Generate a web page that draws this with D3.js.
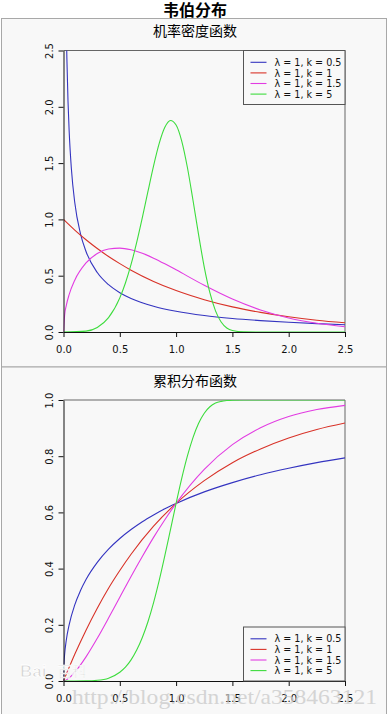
<!DOCTYPE html>
<meta charset="utf-8">
<script src="https://d3js.org/d3.v7.min.js"></script>
<style>
  body { margin: 0; background: #fff; }
</style>
<div id="chart"></div>
<script>

// titles and legend
const mainTitle = "韦伯分布";
const pdfTitle = "机率密度函数";
const cdfTitle = "累积分布函数";
const seriesLabels = ["λ = 1, k = 0.5", "λ = 1, k = 1", "λ = 1, k = 1.5", "λ = 1, k = 5"];
const seriesColors = ["#3434c0", "#d83228", "#e23ce2", "#3ddc3d"];

// tick labels
const xTicks = [0, 0.5, 1.0, 1.5, 2.0, 2.5];
const pdfTicks = [0, 0.5, 1.0, 1.5, 2.0, 2.5];
const cdfTicks = [0, 0.2, 0.4, 0.6, 0.8, 1.0];

// k = 0.5 (blue)
const blueX_pdf = [0.025, 0.03, 0.04, 0.05, 0.07, 0.1, 0.15, 0.2, 0.3, 0.4, 0.5, 0.6, 0.8, 1.0, 1.25, 1.5, 1.75, 2.0, 2.25, 2.5];
const blueY_pdf = [2.70, 2.43, 2.05, 1.79, 1.45, 1.15, 0.876, 0.715, 0.528, 0.420, 0.349, 0.298, 0.229, 0.184, 0.146, 0.120, 0.101, 0.086, 0.074, 0.065];
const blueX_cdf = [0, 0.002, 0.005, 0.01, 0.025, 0.05, 0.1, 0.15, 0.2, 0.3, 0.4, 0.5, 0.6, 0.7, 0.8, 0.9, 1.0, 1.25, 1.5, 1.75, 2.0, 2.25, 2.5];
const blueY_cdf = [0, 0.044, 0.068, 0.095, 0.146, 0.200, 0.271, 0.321, 0.361, 0.422, 0.469, 0.507, 0.539, 0.567, 0.591, 0.613, 0.632, 0.673, 0.706, 0.734, 0.757, 0.777, 0.794];

// k = 1 (red)
const redX = [0, 0.1, 0.2, 0.3, 0.4, 0.5, 0.6, 0.8, 1.0, 1.25, 1.5, 1.75, 2.0, 2.25, 2.5];
const redY_pdf = [1, 0.905, 0.819, 0.741, 0.670, 0.607, 0.549, 0.449, 0.368, 0.287, 0.223, 0.174, 0.135, 0.105, 0.082];
const redY_cdf = [0, 0.095, 0.181, 0.259, 0.330, 0.393, 0.451, 0.551, 0.632, 0.713, 0.777, 0.826, 0.865, 0.895, 0.918];

// k = 1.5 (magenta)
const magX = [0, 0.01, 0.025, 0.05, 0.1, 0.2, 0.3, 0.4, 0.5, 0.6, 0.7, 0.8, 0.9, 1.0, 1.25, 1.5, 1.75, 2.0, 2.25, 2.5];
const magY_pdf = [0, 0.150, 0.236, 0.332, 0.460, 0.613, 0.697, 0.737, 0.745, 0.730, 0.699, 0.656, 0.606, 0.552, 0.415, 0.293, 0.196, 0.125, 0.077, 0.046];
const magY_cdf = [0, 0.001, 0.004, 0.011, 0.031, 0.086, 0.152, 0.224, 0.298, 0.372, 0.443, 0.511, 0.574, 0.632, 0.753, 0.841, 0.901, 0.941, 0.966, 0.981];

// k = 5 (green)
const greenX = [0, 0.2, 0.3, 0.4, 0.5, 0.55, 0.6, 0.65, 0.7, 0.75, 0.8, 0.85, 0.9, 0.95, 1.0, 1.05, 1.1, 1.15, 1.2, 1.25, 1.3, 1.35, 1.4, 1.45, 1.5, 1.6, 2.0, 2.5];
const greenY_pdf = [0, 0.008, 0.040, 0.127, 0.303, 0.435, 0.600, 0.795, 1.015, 1.248, 1.476, 1.675, 1.818, 1.879, 1.839, 1.696, 1.463, 1.170, 0.862, 0.577, 0.349, 0.188, 0.089, 0.036, 0.013, 0.001, 0, 0];
const greenY_cdf = [0, 0.0003, 0.0024, 0.010, 0.031, 0.049, 0.075, 0.110, 0.155, 0.211, 0.279, 0.358, 0.446, 0.539, 0.632, 0.721, 0.800, 0.866, 0.917, 0.953, 0.976, 0.989, 0.995, 0.998, 0.9995, 1, 1, 1];

const zip = (xs, ys) => xs.map((x, i) => [x, ys[i]]);

const pdfSeries = [zip(blueX_pdf, blueY_pdf), zip(redX, redY_pdf), zip(magX, magY_pdf), zip(greenX, greenY_pdf)];
const cdfSeries = [zip(blueX_cdf, blueY_cdf), zip(redX, redY_cdf), zip(magX, magY_cdf), zip(greenX, greenY_cdf)];

const W = 390, H = 714;
const svg = d3.select("#chart").append("svg")
  .attr("width", W).attr("height", H)
  .style("display", "block");

const cjk = "'Noto Sans CJK SC', sans-serif";
const latin = "'DejaVu Sans', sans-serif";

svg.append("text")
  .attr("x", 195).attr("y", 15.5)
  .attr("text-anchor", "middle")
  .style("font-family", cjk).style("font-size", "16px").style("font-weight", "bold")
  .text(mainTitle);

// x scale shared by both panels
const x = d3.scaleLinear().domain([0, 2.5]).range([63.5, 345]);

function drawPanel(opt) {
  const g = svg.append("g");

  // panel background
  g.append("rect")
    .attr("x", 1.5).attr("y", opt.top)
    .attr("width", 385).attr("height", opt.height)
    .attr("fill", "#f8f8f8").attr("stroke", "#a8a8a8");

  g.append("text")
    .attr("x", 195).attr("y", opt.titleY)
    .attr("text-anchor", "middle")
    .style("font-family", cjk).style("font-size", "14px")
    .text(opt.title);

  const y = d3.scaleLinear().domain(opt.domain).range(opt.yRange);

  // top and right frame
  g.append("path")
    .attr("d", `M${x(0)},${y(opt.domain[1])}H${x(2.5)}V${y(0)}`)
    .attr("fill", "none").attr("stroke", "#666");

  const clipId = "clip" + opt.id;
  svg.append("clipPath").attr("id", clipId)
    .append("rect")
      .attr("x", x(0)).attr("y", y(opt.domain[1]))
      .attr("width", x(2.5) - x(0)).attr("height", y(0) - y(opt.domain[1]));

  const line = d3.line()
    .x(d => x(d[0]))
    .y(d => y(d[1]))
    .curve(d3.curveMonotoneX);

  g.append("g").attr("clip-path", `url(#${clipId})`)
    .selectAll("path")
    .data(opt.series)
    .join("path")
      .attr("d", line)
      .attr("fill", "none")
      .attr("stroke", (d, i) => seriesColors[i])
      .attr("stroke-width", 1.1);

  // axes
  const xAxis = g.append("g")
    .attr("transform", `translate(0,${y(0)})`)
    .call(d3.axisBottom(x).tickValues(xTicks).tickFormat(d3.format(".1f")).tickSize(5).tickSizeOuter(0));
  xAxis.selectAll("text").attr("y", 21).attr("dy", 0);

  const yAxis = g.append("g")
    .attr("transform", `translate(${x(0)},0)`)
    .call(d3.axisLeft(y).tickValues(opt.ticks).tickFormat(d3.format(".1f")).tickSize(5).tickSizeOuter(0));
  yAxis.selectAll("text")
    .attr("transform", "rotate(-90)")
    .attr("x", 0).attr("y", -10.5).attr("dy", 0)
    .style("text-anchor", "middle");

  [xAxis, yAxis].forEach(a => {
    a.selectAll("text").style("font-family", latin).style("font-size", "10px").attr("fill", "#111");
    a.selectAll("path, line").attr("stroke", "#111");
  });

  // legend
  const lg = g.append("g").attr("transform", `translate(243.5,${opt.legendTop})`);
  lg.append("rect")
    .attr("width", 101.5).attr("height", 54)
    .attr("fill", "#f8f8f8").attr("stroke", "#555");
  const rows = lg.selectAll("g.row")
    .data(seriesLabels)
    .join("g")
      .attr("class", "row")
      .attr("transform", (d, i) => `translate(0,${11.8 + i * 10.6})`);
  rows.append("line")
    .attr("x1", 7).attr("x2", 23)
    .attr("stroke", (d, i) => seriesColors[i]).attr("stroke-width", 1.1);
  rows.append("text")
    .attr("x", 31).attr("y", 3.6)
    .style("font-family", latin).style("font-size", "9.6px")
    .attr("fill", "#111")
    .text(d => d);
}

drawPanel({
  id: "pdf", top: 18.5, height: 348.5, titleY: 36, title: pdfTitle,
  domain: [0, 2.5], yRange: [332, 50.5], ticks: pdfTicks,
  series: pdfSeries, legendTop: 50.5
});

drawPanel({
  id: "cdf", top: 367, height: 360, titleY: 385.5, title: cdfTitle,
  domain: [0, 1], yRange: [681, 400], ticks: cdfTicks,
  series: cdfSeries, legendTop: 627
});

// watermarks (overlaid on the chart, as in the source image)
const wm = svg.append("g").style("pointer-events", "none");
wm.append("text")
  .attr("x", 20).attr("y", 677)
  .style("font-family", "'Liberation Sans', sans-serif").style("font-size", "17px").style("font-weight", "bold")
  .attr("fill", "#d4d4d4").attr("stroke", "#fff").attr("stroke-width", 0.8)
  .text("Bai");
wm.append("text")
  .attr("x", 57).attr("y", 677)
  .style("font-family", cjk).style("font-size", "15px")
  .attr("fill", "#d4d4d4").attr("stroke", "#fff").attr("stroke-width", 0.6)
  .text("百科");
wm.append("text")
  .attr("x", 72).attr("y", 704)
  .attr("textLength", 305).attr("lengthAdjust", "spacingAndGlyphs")
  .style("font-family", "'Liberation Serif', serif").style("font-size", "22px")
  .attr("fill", "#c8c8c8").attr("opacity", 0.75)
  .text("http://blog.csdn.net/a358463121");

</script>
